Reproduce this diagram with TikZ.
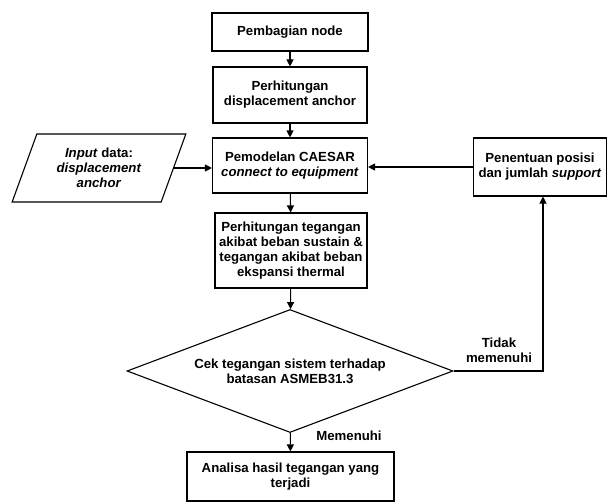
\documentclass[tikz,border=0pt]{standalone}
\usepackage{fontspec}
\setmainfont{Liberation Sans}
\usetikzlibrary{arrows.meta,shapes.geometric}

\begin{document}
\begin{tikzpicture}[x=1pt, y=-1pt,
		every node/.style={font=\fontsize{13.2}{15}\selectfont\bfseries, align=center},
		box/.style={draw, line width=1.1pt, inner sep=0pt},
		flow/.style={line width=1.1pt, -{Triangle[length=7pt,width=7pt]}}]
		%%%%% START %%%%%
		\useasboundingbox (0, 0) rectangle (607, 503);
		
		\node[box, minimum width=156, minimum height=38] (pembagian) at (290, 32) {Pembagian node};
		\node[box, minimum width=154, minimum height=56] (hitungdisp) at (290, 95) {Perhitungan\\displacement anchor};
		\node[box, minimum width=155, minimum height=55] (caesar) at (290, 165.5) {Pemodelan CAESAR\\\textit{connect to equipment}};
		\node[box, minimum width=152, minimum height=75] (hitungteg) at (291, 250.5) {Perhitungan tegangan\\akibat beban sustain \&\\tegangan akibat beban\\ekspansi thermal};
		
		\node[box, trapezium, trapezium left angle=67, trapezium right angle=113, trapezium stretches=true,
			minimum width=174, minimum height=68] (input) at (99, 168) {\textit{Input} data:\\\textit{displacement}\\\textit{anchor}};
		\node[box, minimum width=133, minimum height=58] (support) at (540, 167) {Penentuan posisi\\dan jumlah \textit{support}};
		
		\node[box, diamond, aspect=2.65, minimum width=326, minimum height=123] (cek) at (290, 371) {Cek tegangan sistem terhadap\\batasan ASMEB31.3};
		\node[box, minimum width=207, minimum height=49] (analisa) at (290.5, 476.5) {Analisa hasil tegangan yang\\terjadi};
		
		\draw[flow] (pembagian) -- (hitungdisp);
		\draw[flow] (hitungdisp) -- (caesar);
		\draw[flow] (caesar) -- (hitungteg);
		\draw[flow] (hitungteg) -- (cek);
		\draw[flow] (cek) -- (analisa);
		\draw[flow] (input.east) -- (input.east -| caesar.west);
		\draw[flow] (support.west) -- (support.west -| caesar.east);
		\draw[flow] (cek.east) -| ([xshift=3]support.south);
		
		\node (tidak) at (499, 350) {Tidak\\memenuhi};
		\node (memenuhi) at (349, 436) {Memenuhi};
		%%%%% END %%%%%
	\end{tikzpicture}
\end{document}
